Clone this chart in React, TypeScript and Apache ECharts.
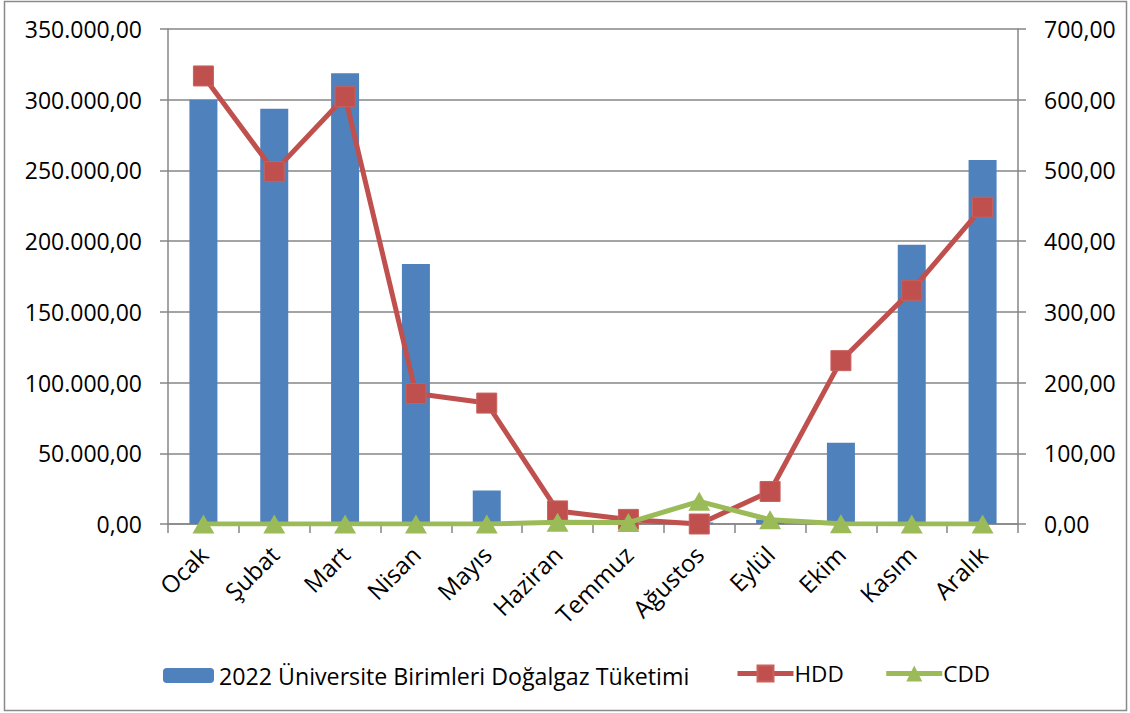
import React, { useEffect, useRef } from "react";
import * as echarts from "echarts";

const categories = ["Ocak", "Şubat", "Mart", "Nisan", "Mayıs", "Haziran", "Temmuz", "Ağustos", "Eylül", "Ekim", "Kasım", "Aralık"];
const gasConsumption = [300000, 293600, 318700, 183900, 23700, 1200, 500, 1100, 3200, 57400, 197400, 257400];
const hdd = [633.6, 498.3, 604.3, 184.5, 171.0, 18.5, 6.5, 0.0, 46.0, 231.0, 330.5, 448.0];
const cdd = [0.0, 0.0, 0.0, 0.0, 0.0, 2.3, 2.0, 32.0, 6.0, 0.5, 0.0, 0.0];
const seriesNames = ["2022 Üniversite Birimleri Doğalgaz Tüketimi", "HDD", "CDD"];

const FONT = "'Open Sans', sans-serif";

function formatTR(v: number): string {
  const neg = v < 0;
  const abs = Math.abs(v);
  const intPart = Math.floor(abs + 1e-9);
  const dec = Math.round((abs - intPart) * 100);
  const intStr = String(intPart).replace(/\B(?=(\d{3})+(?!\d))/g, ".");
  return (neg ? "-" : "") + intStr + "," + String(dec).padStart(2, "0");
}

export default function App() {
  const ref = useRef<HTMLDivElement>(null);
  useEffect(() => {
    if (!ref.current) return;
    const chart = echarts.init(ref.current, undefined, { renderer: "svg" });
    const axisColor = "#868686";
    chart.setOption({
      animation: false,
      backgroundColor: "#ffffff",
      textStyle: { fontFamily: FONT },
      graphic: [
        {
          type: "rect",
          shape: { x: 4.5, y: 1.5, width: 1122, height: 709 },
          style: { fill: "none", stroke: "#8a8a8a", lineWidth: 1.5 },
          silent: true,
          z: -10,
        },
      ],
      grid: { left: 168, right: 112, top: 29, bottom: 189, containLabel: false },
      legend: [
        {
          data: [seriesNames[0]],
          left: 158,
          top: 659,
          itemWidth: 51,
          itemHeight: 15,
          itemGap: 7,
          textStyle: { fontFamily: FONT, fontSize: 23.2, color: "#000", padding: [0, 0, 0, 0] },
        },
        {
          data: [seriesNames[1], seriesNames[2]],
          left: 730,
          top: 657,
          itemWidth: 56,
          itemHeight: 20,
          itemGap: 40,
          lineStyle: { width: 5 },
          textStyle: { fontFamily: FONT, fontSize: 22.5, color: "#000", padding: [0, 0, 0, -4] },
        },
      ],
      xAxis: {
        type: "category",
        data: categories,
        boundaryGap: true,
        axisLine: { show: true, lineStyle: { color: axisColor, width: 1.5 } },
        axisTick: { show: true, length: 9, lineStyle: { color: axisColor, width: 1.5 } },
        axisLabel: { rotate: 45, margin: 26, fontFamily: FONT, fontSize: 24, color: "#000", interval: 0 },
      },
      yAxis: [
        {
          type: "value",
          min: 0,
          max: 350000,
          interval: 50000,
          position: "left",
          axisLine: { show: true, lineStyle: { color: axisColor, width: 1.5 } },
          axisTick: { show: true, length: 8, lineStyle: { color: axisColor, width: 1.5 } },
          splitLine: { show: true, lineStyle: { color: axisColor, width: 1.5 } },
          axisLabel: { margin: 26, fontFamily: FONT, fontSize: 23, color: "#000", formatter: (v: number) => formatTR(v) },
        },
        {
          type: "value",
          min: 0,
          max: 700,
          interval: 100,
          position: "right",
          axisLine: { show: true, lineStyle: { color: axisColor, width: 1.5 } },
          axisTick: { show: true, length: 8, lineStyle: { color: axisColor, width: 1.5 } },
          splitLine: { show: false },
          axisLabel: { margin: 26, fontFamily: FONT, fontSize: 23, color: "#000", formatter: (v: number) => formatTR(v) },
        },
      ],
      series: [
        {
          name: seriesNames[0],
          type: "bar",
          yAxisIndex: 0,
          data: gasConsumption,
          barWidth: 28,
          itemStyle: { color: "#4F81BD" },
        },
        {
          name: seriesNames[1],
          type: "line",
          yAxisIndex: 1,
          data: hdd,
          symbol: "rect",
          symbolSize: 20,
          lineStyle: { color: "#C0504D", width: 5 },
          itemStyle: { color: "#C0504D", borderColor: "#C9605D", borderWidth: 1 },
          z: 3,
        },
        {
          name: seriesNames[2],
          type: "line",
          yAxisIndex: 1,
          data: cdd,
          symbol: "triangle",
          symbolSize: [22, 19],
          lineStyle: { color: "#9BBB59", width: 5 },
          itemStyle: { color: "#9BBB59" },
          z: 4,
        },
      ],
    });
    return () => chart.dispose();
  }, []);
  return <div ref={ref} style={{ position: "fixed", left: 0, top: 0, width: 1130, height: 713 }} />;
}
